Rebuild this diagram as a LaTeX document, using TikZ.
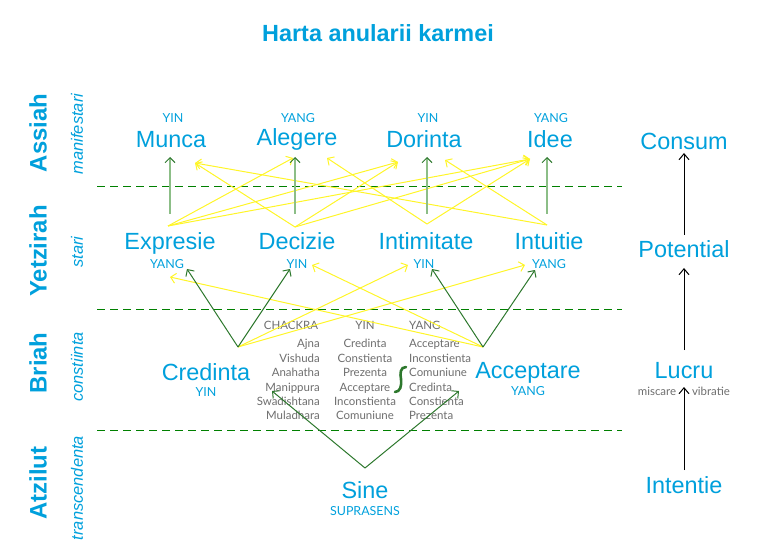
\documentclass[tikz,border=0pt]{standalone}
\usepackage{fontspec}
\setmainfont{Liberation Sans}
\newfontfamily\lightfont{Lato}
\usetikzlibrary{arrows.meta}

\definecolor{cyanlbl}{RGB}{0,160,220}
\definecolor{grtxt}{RGB}{110,110,110}
\definecolor{dkgreen}{RGB}{45,120,45}
\definecolor{dashgreen}{RGB}{0,128,0}
\definecolor{ltgreen}{RGB}{140,190,135}
\definecolor{ylw}{RGB}{255,245,40}

\tikzset{
  lbl/.style={text=cyanlbl, font=\fontsize{23.5}{28}\selectfont, anchor=base, inner sep=0pt},
  yy/.style={text=cyanlbl, font=\lightfont\fontsize{12.5}{14}\selectfont, anchor=base, inner sep=0pt},
  world/.style={text=cyanlbl, font=\bfseries\fontsize{24}{28}\selectfont, rotate=90, inner sep=0pt},
  worldsub/.style={text=cyanlbl, font=\itshape\fontsize{16.5}{20}\selectfont, rotate=90, inner sep=0pt},
  tbl/.style={text=grtxt, font=\lightfont\fontsize{11.5}{13}\selectfont, inner sep=0pt},
  sep/.style={dashgreen, dash pattern=on 8bp off 5bp, line width=1bp},
  yarr/.style={ylw, line width=1bp, -{Straight Barb[length=5bp,width=10bp]}},
  garr/.style={dkgreen, line width=1bp, -{Straight Barb[length=5bp,width=10bp]}},
  gshaft/.style={ltgreen, line width=2.8bp, -{Straight Barb[length=5bp,width=10bp,color=dkgreen,line width=1bp]}},
  karr/.style={black, line width=1bp, -{Straight Barb[length=6bp,width=10bp]}},
}

\begin{document}
\begin{tikzpicture}[x=1bp, y=-1bp]

    \useasboundingbox (0,0) rectangle (758,550);

    % タイトル
    \node[text=cyanlbl, font=\bfseries\fontsize{23.5}{28}\selectfont] (title) at (378,33) {Harta anularii karmei};

    % 左の列: 四つの世界
    \node[world] (assiah) at (38,133) {Assiah};
    \node[worldsub] (manif) at (77,134) {manifestari};
    \node[world] (yetzirah) at (38,251) {Yetzirah};
    \node[worldsub] (stari) at (77,252) {stari};
    \node[world] (briah) at (38,363) {Briah};
    \node[worldsub] (constiinta) at (77,367) {constiinta};
    \node[world] (atzilut) at (38,483) {Atzilut};
    \node[worldsub] (transc) at (77,488) {transcendenta};

    % 区切りの破線
    \coordinate (d1a) at (97,187);  \coordinate (d1b) at (622,187);
    \coordinate (d2a) at (97,309);  \coordinate (d2b) at (622,309);
    \coordinate (d3a) at (97,430);  \coordinate (d3b) at (622,430);
    \draw[sep] (d1a) -- (d1b);
    \draw[sep] (d2a) -- (d2b);
    \draw[sep] (d3a) -- (d3b);

    % Assiah の行
    \node[yy] (yin1) at (173,123) {YIN};
    \node[yy] (yang1) at (298,123) {YANG};
    \node[yy] (yin2) at (428,123) {YIN};
    \node[yy] (yang2) at (551,123) {YANG};
    \node[lbl] (munca) at (171,148) {Munca};
    \node[lbl] (alegere) at (297,146) {Alegere};
    \node[lbl] (dorinta) at (424,148) {Dorinta};
    \node[lbl] (idee) at (550,148) {Idee};

    % Yetzirah の行
    \node[lbl] (expresie) at (170,250) {Expresie};
    \node[lbl] (decizie) at (297,250) {Decizie};
    \node[lbl] (intimitate) at (426,250) {Intimitate};
    \node[lbl] (intuitie) at (549,250) {Intuitie};
    \node[yy] (yang3) at (167,269) {YANG};
    \node[yy] (yin3) at (297,269) {YIN};
    \node[yy] (yin4) at (424,269) {YIN};
    \node[yy] (yang4) at (549,269) {YANG};

    % Briah の行
    \node[lbl] (credinta) at (206,380) {Credinta};
    \node[yy] (yin5) at (206,396) {YIN};
    \node[lbl] (acceptare) at (528,378) {Acceptare};
    \node[yy] (yang5) at (528,395) {YANG};

    % チャクラの表
    \node[tbl, anchor=base] (hch) at (291,329) {CHACKRA};
    \node[tbl, anchor=base] (hyin) at (365,329) {YIN};
    \node[tbl, anchor=base west] (hyang) at (409,329) {YANG};
    \node[tbl, anchor=base east] (ch1) at (320,347) {Ajna};
    \node[tbl, anchor=base east] (ch2) at (320,362) {Vishuda};
    \node[tbl, anchor=base east] (ch3) at (320,376) {Anahatha};
    \node[tbl, anchor=base east] (ch4) at (320,391) {Manippura};
    \node[tbl, anchor=base east] (ch5) at (320,405) {Swadishtana};
    \node[tbl, anchor=base east] (ch6) at (320,419) {Muladhara};
    \node[tbl, anchor=base] (yi1) at (365,347) {Credinta};
    \node[tbl, anchor=base] (yi2) at (365,362) {Constienta};
    \node[tbl, anchor=base] (yi3) at (365,376) {Prezenta};
    \node[tbl, anchor=base] (yi4) at (365,391) {Acceptare};
    \node[tbl, anchor=base] (yi5) at (365,405) {Inconstienta};
    \node[tbl, anchor=base] (yi6) at (365,419) {Comuniune};
    \node[tbl, anchor=base west] (ya1) at (409,347) {Acceptare};
    \node[tbl, anchor=base west] (ya2) at (409,362) {Inconstienta};
    \node[tbl, anchor=base west] (ya3) at (409,376) {Comuniune};
    \node[tbl, anchor=base west] (ya4) at (409,391) {Credinta};
    \node[tbl, anchor=base west] (ya5) at (409,405) {Constienta};
    \node[tbl, anchor=base west] (ya6) at (409,419) {Prezenta};

    % 緑の S 字
    \draw[dkgreen, line width=2.6bp, line cap=round]
        (406,367) .. controls (400,367) and (400,374) .. (401,379)
        .. controls (402,386) and (400,392) .. (395,392);

    % Atzilut の行
    \node[lbl] (sine) at (365,498) {Sine};
    \node[yy] (supra) at (365,515) {SUPRASENS};

    % 右の列
    \node[lbl] (consum) at (684,150) {Consum};
    \node[lbl] (potential) at (684,258) {Potential};
    \node[lbl] (lucru) at (684,378) {Lucru};
    \node[tbl, anchor=base, font=\lightfont\fontsize{11.5}{13}\selectfont] (miscare) at (657,395) {miscare};
    \node[tbl, anchor=base, font=\lightfont\fontsize{11.5}{13}\selectfont] (vibratie) at (711,395) {vibratie};
    \node[lbl] (intentie) at (684,493) {Intentie};

    % 矢印の端点
    \coordinate (g1b) at (170,214);  \coordinate (g1t) at (170,157);
    \coordinate (g2b) at (295,214);  \coordinate (g2t) at (295,157);
    \coordinate (g3b) at (427,214);  \coordinate (g3t) at (427,157);
    \coordinate (g4b) at (547,214);  \coordinate (g4t) at (547,157);

    \coordinate (yE) at (168,226);
    \coordinate (yD) at (295,227);
    \coordinate (yI) at (427,224);
    \coordinate (yT) at (547,225);
    \coordinate (a1) at (195,163);
    \coordinate (a2) at (293,158);
    \coordinate (a3) at (327,158);
    \coordinate (a4) at (398,162);
    \coordinate (a5) at (445,160);
    \coordinate (a6) at (530,159);

    \coordinate (cv) at (238,347);
    \coordinate (av) at (483,347);
    \coordinate (b1) at (187,269);
    \coordinate (b2) at (290,269);
    \coordinate (b3) at (432,269);
    \coordinate (b4) at (535,270);
    \coordinate (c1) at (170,277);
    \coordinate (c2) at (312,265);
    \coordinate (c3) at (408,265);
    \coordinate (c4) at (525,265);

    \coordinate (sv) at (365,468);
    \coordinate (s1) at (272,391);
    \coordinate (s2) at (459,391);

    \coordinate (k1b) at (684,470);  \coordinate (k1t) at (684,387);
    \coordinate (k2b) at (684,350);  \coordinate (k2t) at (684,268);
    \coordinate (k3b) at (684,235);  \coordinate (k3t) at (684,153);

    % 黄色の矢印 (Yetzirah -> Assiah)
    \draw[yarr] (yE) -- (a2);
    \draw[yarr] (yE) -- (a4);
    \draw[yarr] (yE) -- (a6);
    \draw[yarr] (yD) -- (a1);
    \draw[yarr] (yD) -- (a4);
    \draw[yarr] (yD) -- (a6);
    \draw[yarr] (yI) -- (a3);
    \draw[yarr] (yI) -- (a6);
    \draw[yarr] (yT) -- (a1);
    \draw[yarr] (yT) -- (a5);

    % 黄色の矢印 (Briah -> Yetzirah)
    \draw[yarr] (cv) -- (c3);
    \draw[yarr] (cv) -- (c4);
    \draw[yarr] (av) -- (c1);
    \draw[yarr] (av) -- (c2);

    % 緑の矢印
    \draw[gshaft] (g1b) -- (g1t);
    \draw[gshaft] (g2b) -- (g2t);
    \draw[gshaft] (g3b) -- (g3t);
    \draw[gshaft] (g4b) -- (g4t);
    \draw[garr] (cv) -- (b1);
    \draw[garr] (cv) -- (b2);
    \draw[garr] (av) -- (b3);
    \draw[garr] (av) -- (b4);
    \draw[garr] (sv) -- (s1);
    \draw[garr] (sv) -- (s2);

    % 右の列の矢印
    \draw[karr] (k1b) -- (k1t);
    \draw[karr] (k2b) -- (k2t);
    \draw[karr] (k3b) -- (k3t);

\end{tikzpicture}
\end{document}
